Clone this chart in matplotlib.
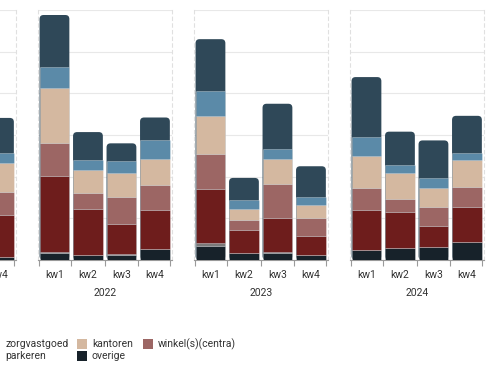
import matplotlib.pyplot as plt
import numpy as np
from matplotlib.patches import FancyBboxPatch, Rectangle

plt.rcParams['font.family'] = ['Roboto', 'DejaVu Sans']

years = ["2021", "2022", "2023", "2024"]
quarters = ["kw1", "kw2", "kw3", "kw4"]

# stacked bottom -> top; None = outside the visible crop
overige = [[None, None, None, 7], [18, 12, 12, 26], [34, 16, 18, 11], [23, 28, 32, 44]]
parkeren = [[None, None, None, 0], [1, 0, 2, 0], [8, 0, 2, 0], [0, 0, 0, 0]]
woningen = [[None, None, None, 102], [183, 110, 73, 95], [129, 55, 82, 47], [97, 88, 50, 83]]
winkels = [[None, None, None, 54], [80, 40, 64, 59], [84, 25, 81, 42], [54, 30, 46, 48]]
kantoren = [[None, None, None, 70], [130, 54, 58, 62], [90, 26, 59, 31], [75, 62, 45, 66]]
zorgvastgoed = [[None, None, None, 24], [50, 23, 28, 45], [61, 21, 24, 21], [46, 19, 24, 15]]
bedrijfsruimte = [[None, None, None, 84], [126, 68, 43, 55], [124, 54, 109, 73], [144, 81, 90, 90]]

series = [
    ("overige", overige, "#17222a"),
    ("parkeren", parkeren, "#7a7a7a"),
    ("woningen", woningen, "#6e1d1c"),
    ("winkel(s)(centra)", winkels, "#9c6664"),
    ("kantoren", kantoren, "#d4b8a0"),
    ("zorgvastgoed", zorgvastgoed, "#5b8aa8"),
    ("bedrijfsruimte", bedrijfsruimte, "#2f4858"),
]

W, H = 495, 367
fig = plt.figure(figsize=(W / 100, H / 100), dpi=100)

text_col = "#333333"
ymax = 600
bar_w = 0.89

for p, year in enumerate(years):
    left = 37.7 + 156 * (p - 1)
    ax = fig.add_axes([left / W, 107 / H, 134 / W, 250 / H])
    x = np.arange(len(quarters))
    vals = [np.array([np.nan if v is None else v for v in s[1][p]], float) for s in series]
    ok = ~np.isnan(vals[0])
    total = np.nansum(vals, axis=0)

    # top segment with rounded corners (lower corners hidden by segments below)
    top_color = series[-1][2]
    for i in x[ok]:
        ax.add_patch(FancyBboxPatch((i - bar_w / 2, 0), bar_w, total[i],
                                    boxstyle="round,pad=0,rounding_size=0.12",
                                    mutation_aspect=80.4, facecolor=top_color,
                                    edgecolor="none", zorder=2))

    bottom = np.zeros(len(quarters))
    for (name, _, color), v in zip(series[:-1], vals):
        ax.bar(x[ok], v[ok], bar_w, bottom=bottom[ok], color=color,
               edgecolor=(1, 1, 1, 0.35), linewidth=0.6, zorder=3)
        bottom = bottom + np.nan_to_num(v)

    ax.set_xlim(-0.5, 3.5)
    ax.set_ylim(0, ymax)
    ax.set_yticks(np.arange(0, ymax + 1, 100))
    ax.yaxis.grid(True, color="#e8e8e8", linewidth=0.8, zorder=0)
    ax.set_axisbelow(True)
    ax.tick_params(axis="y", length=0, labelleft=False)

    ax.set_xticks([-0.45, 0.5, 1.5, 2.5, 3.45])
    ax.set_xticklabels([])
    ax.tick_params(axis="x", which="major", length=4, color="#9a9a9a", width=0.8)
    ax.set_xticks(x, minor=True)
    ax.set_xticklabels(quarters, minor=True, fontsize=7.5, color=text_col)
    ax.tick_params(axis="x", which="minor", length=0, pad=7)

    for s in ("left", "right"):
        ax.spines[s].set_color("#e0e0e0")
        ax.spines[s].set_linestyle((0, (3, 3)))
        ax.spines[s].set_linewidth(0.8)
    ax.spines["top"].set_visible(False)
    ax.spines["bottom"].set_color("#9a9a9a")
    ax.spines["bottom"].set_linewidth(0.8)

    ax.text(0.5, -(292.7 - 260) / 250, year, transform=ax.transAxes,
            ha="center", va="center", fontsize=7.5, color=text_col)

# legend (partly cut off at the left edge, as in the reference)
legend_items = [
    ("zorgvastgoed", "#5b8aa8", -10, 344),
    ("kantoren", "#d4b8a0", 77, 344),
    ("winkel(s)(centra)", "#9c6664", 143, 344),
    ("parkeren", "#7a7a7a", -10, 356),
    ("overige", "#17222a", 77, 356),
]
for label, color, sx, cy in legend_items:
    fig.add_artist(Rectangle((sx / W, 1 - (cy + 5) / H), 10 / W, 10 / H,
                             transform=fig.transFigure, facecolor=color,
                             edgecolor="none"))
    fig.text((sx + 15) / W, 1 - cy / H, label, ha="left", va="center",
             fontsize=7.5, color=text_col)

fig.savefig("out.png", dpi=100)
